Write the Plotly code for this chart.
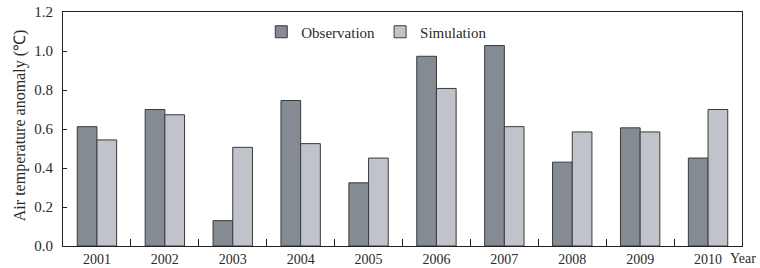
import plotly.graph_objects as go

years = ["2001", "2002", "2003", "2004", "2005", "2006", "2007", "2008", "2009", "2010"]
observation = [0.612, 0.700, 0.130, 0.746, 0.324, 0.973, 1.028, 0.430, 0.606, 0.451]
simulation = [0.544, 0.673, 0.506, 0.525, 0.451, 0.808, 0.612, 0.585, 0.585, 0.700]
y_ticks = [0.0, 0.2, 0.4, 0.6, 0.8, 1.0, 1.2]

FONT = "Liberation Serif"
TXT = "#2a2a2a"

fig = go.Figure()
fig.add_trace(go.Bar(x=years, y=observation, name="Observation",
                     marker=dict(color="#858b92", line=dict(color="#3a3a3a", width=1))))
fig.add_trace(go.Bar(x=years, y=simulation, name="Simulation",
                     marker=dict(color="#c1c3ca", line=dict(color="#3a3a3a", width=1))))

fig.update_layout(
    width=760, height=268,
    margin=dict(l=63, r=18, t=12, b=22, autoexpand=False),
    paper_bgcolor="white", plot_bgcolor="white",
    barmode="group", bargap=0.42, bargroupgap=0,
    font=dict(family=FONT, size=14, color=TXT),
    showlegend=True,
    legend=dict(orientation="h", x=0.292, y=0.985, xanchor="left", yanchor="top",
                font=dict(family=FONT, size=15, color=TXT),
                bgcolor="rgba(0,0,0,0)", itemwidth=30, tracegroupgap=0),
)
fig.update_xaxes(
    type="category", showline=True, linecolor="#222", linewidth=1.2, mirror=True,
    ticks="inside", ticklen=7, tickcolor="#222", tickson="boundaries",
    showgrid=False, automargin=False, tickfont=dict(family=FONT, size=14, color=TXT),
)
fig.update_yaxes(
    range=[0, 1.2], tickvals=y_ticks, ticktext=[f"{v:.1f}" for v in y_ticks],
    showline=True, linecolor="#222", linewidth=1.2, mirror=True,
    ticks="inside", ticklen=4, tickcolor="#222", showgrid=False, zeroline=False,
    automargin=False, ticklabelstandoff=6, ticklabeloverflow="allow",
    tickfont=dict(family=FONT, size=15, color=TXT),
)
fig.add_annotation(text="Air temperature anomaly (℃)", xref="paper", yref="paper",
                   x=-0.063, y=0.513, textangle=-90, showarrow=False,
                   xanchor="center", yanchor="middle",
                   font=dict(family=FONT, size=16, color=TXT))
fig.add_annotation(text="Year", xref="paper", yref="paper", x=0.979, y=0, xanchor="left",
                   yanchor="top", yshift=-3, showarrow=False,
                   font=dict(family=FONT, size=14, color=TXT))
fig.write_html("out.html", config={"displayModeBar": False},
               post_script="document.body.style.margin='0';")
